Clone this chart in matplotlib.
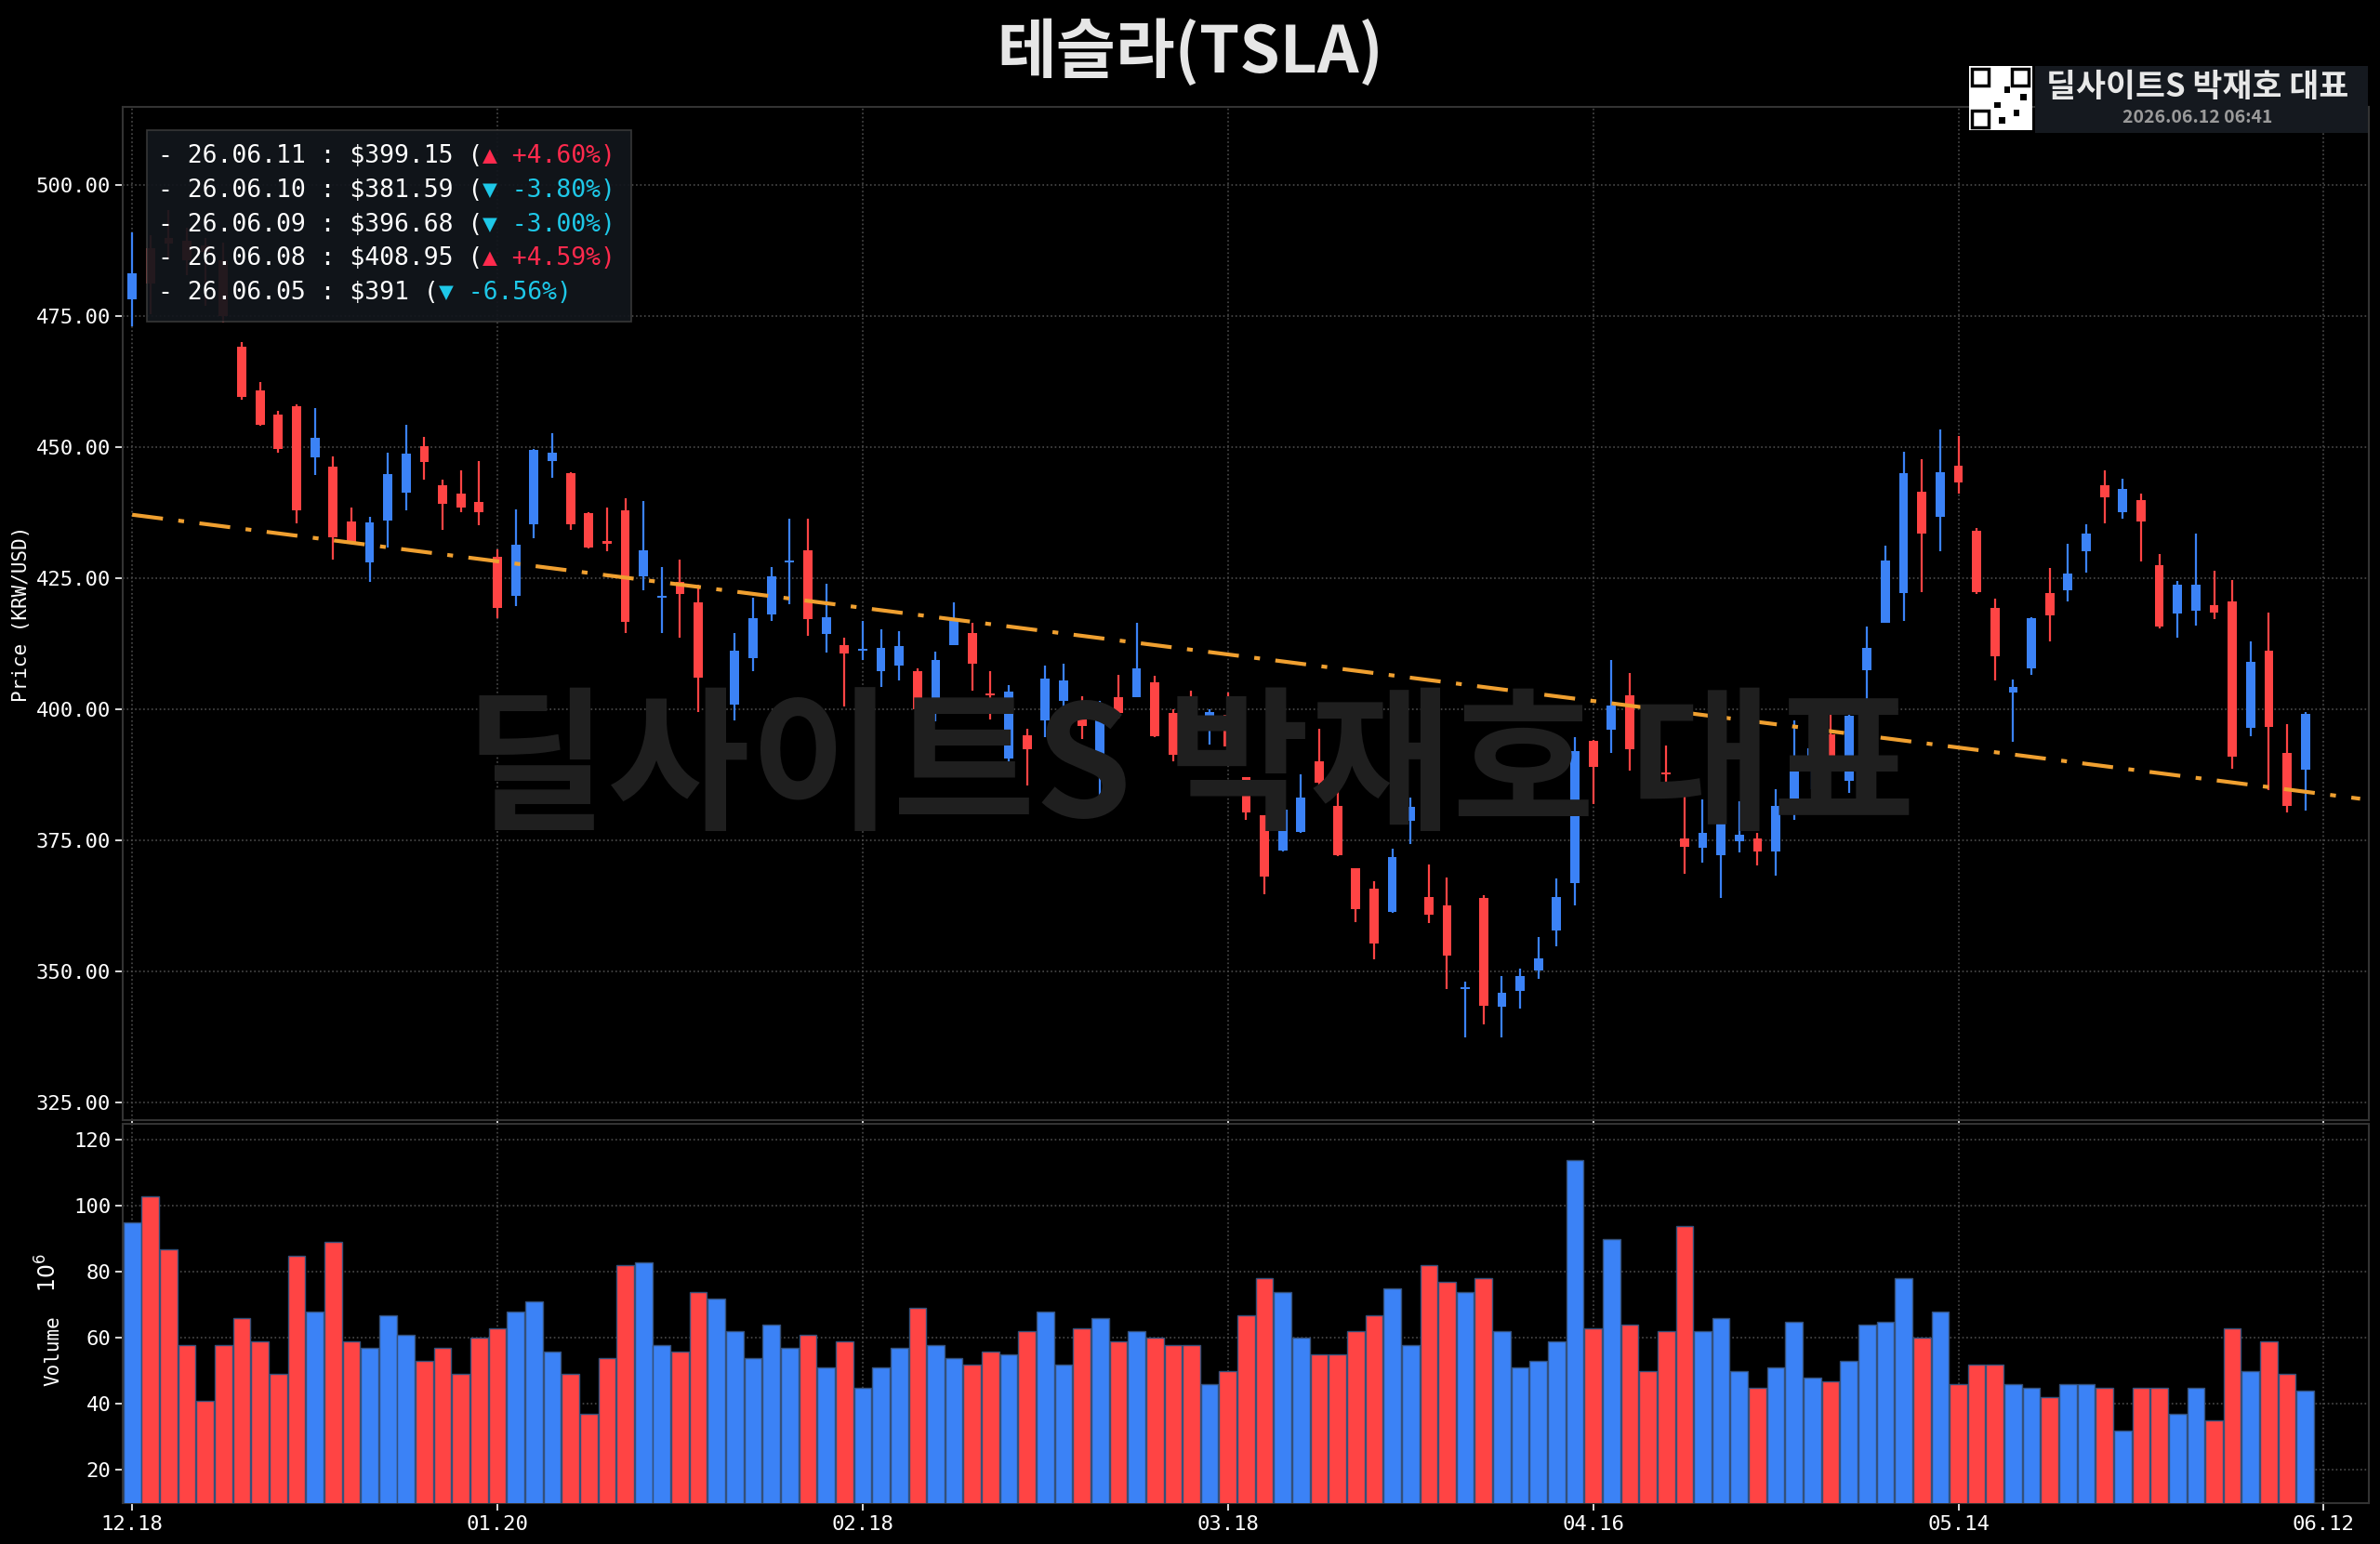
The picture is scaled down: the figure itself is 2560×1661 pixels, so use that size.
import matplotlib
matplotlib.use("Agg")
import matplotlib.pyplot as plt
from matplotlib.patches import Rectangle
from matplotlib.text import Annotation
import numpy as np

opens = [478.2,488.0,490.0,489.3,488.5,485.6,469.1,460.9,456.2,457.8,
         448.1,446.3,435.9,428.0,436.0,441.3,450.1,442.7,441.1,439.5,
         429.0,421.7,435.2,447.4,445.0,437.4,432.0,437.9,425.3,421.3,
         424.3,420.3,397.0,400.9,409.8,418.0,428.0,430.3,414.3,412.3,
         411.2,407.2,408.3,407.3,399.5,412.2,414.5,402.9,390.6,395.0,
         397.9,401.5,398.1,390.0,402.2,402.3,405.1,399.3,396.1,396.0,
         399.0,387.1,379.8,373.1,376.6,390.0,381.6,369.7,365.8,361.3,
         378.7,364.2,362.6,346.6,363.9,343.2,346.3,350.1,357.7,366.8,
         393.9,396.0,402.7,393.0,387.7,375.3,373.5,372.1,374.7,375.4,
         372.8,382.5,390.3,395.2,386.3,407.4,416.5,422.1,441.5,436.7,
         446.5,434.0,419.3,403.1,407.7,422.2,422.6,430.2,442.8,437.5,
         439.9,427.5,418.2,418.7,419.8,420.6,396.4,411.1,391.6,388.4]
highs = [490.9,490.5,495.3,491.9,490.0,489.0,470.0,462.5,457.0,458.2,
         457.5,448.2,438.4,436.7,448.9,454.2,451.9,443.8,445.5,447.3,
         430.5,438.2,449.6,452.6,445.2,437.6,438.4,440.2,439.8,427.1,
         428.6,423.7,401.9,414.6,421.2,427.2,436.4,436.3,424.0,413.6,
         416.9,415.3,414.8,407.8,410.9,420.4,416.5,407.2,404.6,396.3,
         408.4,408.6,402.4,401.5,406.5,416.4,406.3,400.0,403.6,400.0,
         403.2,387.1,379.8,385.2,387.5,396.2,384.4,369.7,367.1,373.4,
         383.2,370.3,367.8,348.0,364.5,349.0,350.4,356.5,367.7,394.7,
         394.2,409.3,406.9,393.9,393.0,386.0,382.7,380.8,382.4,376.4,
         384.7,397.9,394.7,401.9,401.7,415.8,431.2,449.1,447.7,453.3,
         452.1,434.6,421.1,405.6,417.5,427.0,431.5,435.3,445.6,444.0,
         441.1,429.6,424.4,433.5,426.4,424.7,413.0,418.5,397.1,399.5]
lows = [473.1,475.3,485.9,482.8,477.0,473.8,459.0,454.0,449.0,435.5,
        444.7,428.6,431.5,424.3,430.8,438.0,443.8,434.2,437.6,435.1,
        417.4,419.6,432.6,444.1,434.2,430.7,430.1,414.6,422.7,414.6,
        413.7,399.4,387.5,397.9,407.3,416.9,420.1,414.0,410.8,400.5,
        409.4,404.3,405.4,394.1,397.6,412.2,403.6,398.1,388.4,385.4,
        394.7,399.5,394.3,381.6,398.2,402.2,394.7,390.0,394.5,393.2,
        392.4,378.8,364.6,372.8,376.4,385.1,371.9,359.4,352.2,361.1,
        374.2,359.1,346.6,337.3,339.8,337.3,342.8,348.5,354.7,362.6,
        381.8,391.6,388.3,385.3,385.3,368.5,370.7,364.0,372.6,370.1,
        368.3,378.8,384.8,388.9,384.1,402.0,416.5,416.8,422.3,430.2,
        441.1,421.9,405.4,393.7,406.5,412.9,420.6,426.0,435.5,436.3,
        428.2,415.5,413.6,416.0,417.1,388.7,394.8,384.5,380.2,380.7]
closes = [483.2,481.2,488.8,485.6,487.3,475.0,459.5,454.2,449.7,438.0,
          451.7,432.8,431.8,435.7,444.8,448.8,447.2,439.2,438.5,437.5,
          419.3,431.4,449.4,448.9,435.2,430.9,431.6,416.6,430.3,421.6,
          422.0,406.0,397.3,411.1,417.3,425.3,428.2,417.2,417.5,410.6,
          411.4,411.7,412.0,399.9,409.4,416.8,408.6,402.7,403.3,392.4,
          405.8,405.5,396.7,398.6,399.3,407.8,394.9,391.3,396.0,399.5,
          392.8,380.3,368.0,380.8,383.1,386.0,372.1,361.9,355.3,371.8,
          381.3,360.8,353.0,346.7,343.4,345.8,349.1,352.5,364.2,392.0,
          388.9,400.6,392.4,386.4,387.5,373.7,376.4,378.8,376.1,372.9,
          381.6,390.9,392.5,389.6,398.7,411.7,428.3,445.0,433.5,445.3,
          443.2,422.3,410.1,404.2,417.3,417.9,425.9,433.5,440.4,442.1,
          435.8,415.8,423.7,423.7,418.5,391.0,409.0,396.68,381.59,399.15]
volumes = [95,103,87,58,41,58,66,59,49,85,
           68,89,59,57,67,61,53,57,49,60,
           63,68,71,56,49,37,54,82,83,58,
           56,74,72,62,54,64,57,61,51,59,
           45,51,57,69,58,54,52,56,55,62,
           68,52,63,66,59,62,60,58,58,46,
           50,67,78,74,60,55,55,62,67,75,
           58,82,77,74,78,62,51,53,59,114,
           63,90,64,50,62,94,62,66,50,45,
           51,65,48,47,53,64,65,78,60,68,
           46,52,52,46,45,42,46,46,45,32,
           45,45,37,45,35,63,50,59,49,44]
tick_pos = [0, 20, 40, 60, 80, 100, 120]
tick_labels = ["12.18", "01.20", "02.18", "03.18", "04.16", "05.14", "06.12"]
price_ticks = [325, 350, 375, 400, 425, 450, 475, 500]
vol_ticks = [20, 40, 60, 80, 100, 120]
trend_x = [0, 122]
trend_y = [437.1, 382.9]
legend_dates = ["26.06.11", "26.06.10", "26.06.09", "26.06.08", "26.06.05"]
legend_prices = ["$399.15", "$381.59", "$396.68", "$408.95", "$391"]
legend_pcts = ["+4.60%", "-3.80%", "-3.00%", "+4.59%", "-6.56%"]

UP = "#3b82f6"
DOWN = "#ff4444"
MONO = ["DejaVu Sans Mono", "DejaVu Sans"]
KR = ["Noto Sans CJK KR", "DejaVu Sans"]
GRID = "#4a4a4a"

fig = plt.figure(figsize=(25.6, 16.61), dpi=100, facecolor="black")
axp = fig.add_axes([0.0517, 0.2743, 0.9438, 0.6567], facecolor="black")
axv = fig.add_axes([0.0517, 0.0265, 0.9438, 0.2459], facecolor="black", sharex=axp)

# watermark
fig.text(0.5, 0.50, "딜사이트S 박재호 대표", family=KR, fontweight="bold",
         fontsize=120, color="#1f1f1f", ha="center", va="center", zorder=0)

n = len(opens)
x = np.arange(n)
o = np.array(opens); c = np.array(closes); h = np.array(highs); l = np.array(lows)
cols = [UP if cc >= oo else DOWN for oo, cc in zip(o, c)]

axp.vlines(x, l, h, colors=cols, linewidth=1.6, zorder=3)
bot = np.minimum(o, c)
ht = np.maximum(np.abs(c - o), 0.35)
axp.bar(x, ht, bottom=bot, width=0.5, color=cols, zorder=4)
axp.plot(trend_x, trend_y, color="#f0a030", lw=3, ls=(0, (8, 4, 1.5, 4)), zorder=5)

axp.set_xlim(-0.5, 122.5)
axp.set_ylim(321.5, 515)
axp.set_yticks(price_ticks)
axp.set_yticklabels([f"{v:.2f}" for v in price_ticks])
axp.set_ylabel("Price (KRW/USD)", color="white", family=MONO, fontsize=15)

axv.bar(x, volumes, width=0.95, color=cols, edgecolor="#34507a", linewidth=1, zorder=3)
axv.set_ylim(10, 125)
axv.set_yticks(vol_ticks)
axv.set_ylabel("Volume", color="white", family=MONO, fontsize=15)
axv.yaxis.set_label_coords(-0.027, 0.40)
fig.text(0.0205, 0.176, "$10^6$", color="white", fontsize=17, rotation=90, ha="center", va="center")
axv.set_xticks(tick_pos)
axv.set_xticklabels(tick_labels)

for ax in (axp, axv):
    ax.grid(True, color=GRID, ls=":", lw=1.2, zorder=0)
    ax.set_axisbelow(True)
    for s in ax.spines.values():
        s.set_color("#333333"); s.set_linewidth(1.5)
    ax.tick_params(colors="white", labelsize=16, length=6, width=1.2)
    for t in ax.get_xticklabels() + ax.get_yticklabels():
        t.set_family(MONO); t.set_color("white")
axp.tick_params(labelbottom=False)

# title
fig.text(0.5, 0.966, "테슬라(TSLA)", family=KR, fontweight="bold", fontsize=50,
         color="#e6e6e6", ha="center", va="center")

# top right badge
fig.patches.append(Rectangle((0.855, 0.914), 0.14, 0.043, transform=fig.transFigure,
                             facecolor="#15191f", edgecolor="none", zorder=5))
fig.patches.append(Rectangle((0.8275, 0.916), 0.0265, 0.041, transform=fig.transFigure,
                             facecolor="white", edgecolor="none", zorder=6))
for (qx, qy) in [(0.8285, 0.9445), (0.8455, 0.9445), (0.8285, 0.9175)]:
    fig.patches.append(Rectangle((qx, qy), 0.007, 0.011, transform=fig.transFigure,
                                 facecolor="none", edgecolor="black", lw=2.5, zorder=7))
for (qx, qy) in [(0.838, 0.93), (0.842, 0.94), (0.846, 0.925), (0.849, 0.935), (0.84, 0.92)]:
    fig.patches.append(Rectangle((qx, qy), 0.0025, 0.004, transform=fig.transFigure,
                                 facecolor="black", edgecolor="none", zorder=7))
fig.text(0.9235, 0.944, "딜사이트S 박재호 대표", family=KR, fontweight="bold", fontsize=25,
         color="#e8e8e8", ha="center", va="center", zorder=8)
fig.text(0.9235, 0.924, "2026.06.12 06:41", family=KR, fontweight="bold", fontsize=14,
         color="#9a9a9a", ha="center", va="center", zorder=8)

# legend box
fig.patches.append(Rectangle((0.0619, 0.7915), 0.2034, 0.124, transform=fig.transFigure,
                             facecolor="#12161c", edgecolor="#3a3a3a", lw=1.2, alpha=0.93, zorder=9))
for k in range(5):
    yy = 0.899 - k * 0.0222
    prefix = f"- {legend_dates[k]} : {legend_prices[k]} ("
    up = legend_pcts[k].startswith("+")
    col = "#ff2a4d" if up else "#1ec8e8"
    sym = "▲" if up else "▼"
    t1 = fig.text(0.0665, yy, prefix, family=MONO, fontsize=19, color="white", va="center", zorder=10)
    ann = Annotation(f"{sym} {legend_pcts[k]})", xy=(1, 0.5), xycoords=t1, xytext=(0, 0),
                     textcoords="offset points", va="center", ha="left", family=MONO,
                     fontsize=19, color=col, annotation_clip=False)
    ann.set_zorder(11)
    fig.add_artist(ann)

fig.savefig("out.png", dpi=100, facecolor="black")
